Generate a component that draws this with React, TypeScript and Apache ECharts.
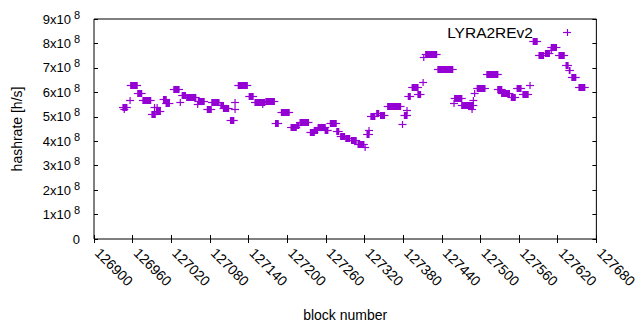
import React, { useEffect, useRef } from "react";
import * as echarts from "echarts";

// Each entry: a run of consecutive blocks that share one hashrate value (h/s)
const runStart = [126945,126947,126956,126957,126968,126976,126990,126994,126997,126998,127008,127012,127024,127034,127037,127044,127061,127062,127076,127083,127097,127101,127112,127119,127119,127124,127141,127150,127162,127167,127182,127191,127206,127215,127220,127236,127242,127248,127259,127267,127277,127283,127291,127300,127310,127321,127324,127327,127330,127339,127345,127356,127379,127382,127386,127388,127394,127403,127411,127412,127415,127434,127459,127460,127471,127487,127489,127491,127495,127510,127527,127533,127548,127557,127566,127577,127582,127591,127601,127610,127610,127622,127633,127638,127642,127653];
const runEnd = [126951,126947,126956,126967,126974,126988,126995,126994,127003,126998,127012,127017,127032,127034,127042,127058,127061,127071,127082,127094,127101,127109,127117,127119,127119,127138,127147,127165,127162,127180,127186,127203,127214,127218,127233,127242,127247,127259,127263,127276,127280,127289,127297,127307,127319,127321,127327,127327,127336,127342,127351,127376,127379,127386,127386,127391,127403,127407,127411,127412,127432,127457,127459,127471,127489,127487,127489,127491,127507,127527,127533,127545,127554,127563,127574,127577,127588,127598,127607,127618,127610,127630,127636,127639,127648,127662];
const hashrateM = [540,530,569,632,597,568,512,540,525,540,572,558,612,559,591,580,552,565,533,560,550,536,487,559,532,628,585,562,552,565,476,518,460,468,478,437,447,457,447,474,442,421,412,404,390,378,430,446,503,515,507,543,470,508,528,585,622,594,644,746,755,694,556,575,550,531,568,597,618,673,612,597,580,617,594,630,812,751,759,784,774,752,710,693,661,620];

const xTickMin = 126900;
const xTickMax = 127680;
const xTickStep = 60;
const yTickMax = 9e8;
const yTickStep = 1e8;
const seriesName = "LYRA2REv2";

const PURPLE = "#9400d3";
const FONT = "Liberation Sans, Arial, sans-serif";

export default function App() {
  const ref = useRef<HTMLDivElement>(null);
  useEffect(() => {
    if (!ref.current) return;
    const chart = echarts.init(ref.current, undefined, { renderer: "svg" });
    const data = runStart.map((s, i) => [s, runEnd[i], hashrateM[i] * 1e6]);
    const yFmt = (v: number) => (v === 0 ? "0" : `{a|${Math.round(v / 1e8)}x10}{b|8}`);
    const tickStyle = { inside: true, length: 4, lineStyle: { color: "#000", width: 1 } };
    chart.setOption({
      animation: false,
      textStyle: { fontFamily: FONT },
      grid: { left: 94, right: 31, top: 19, bottom: 91, show: true, borderColor: "#000", borderWidth: 1, backgroundColor: "transparent" },
      xAxis: [
        {
          type: "value", min: xTickMin, max: xTickMax, interval: xTickStep,
          name: "block number", nameLocation: "middle", nameGap: 69,
          nameTextStyle: { color: "#000", fontSize: 14, fontFamily: FONT },
          axisLine: { show: false }, splitLine: { show: false },
          axisTick: tickStyle,
          axisLabel: { rotate: -45, color: "#000", fontSize: 14, margin: 8, fontFamily: FONT, showMaxLabel: true, padding: [0, 0, 0, 5], formatter: (v: number) => String(v) },
        },
        {
          type: "value", position: "top", min: xTickMin, max: xTickMax, interval: xTickStep,
          axisLine: { show: false }, splitLine: { show: false },
          axisTick: tickStyle, axisLabel: { show: false },
        },
      ],
      yAxis: [
        {
          type: "value", min: 0, max: yTickMax, interval: yTickStep,
          name: "hashrate [h/s]", nameLocation: "middle", nameGap: 70, nameRotate: 90,
          nameTextStyle: { color: "#000", fontSize: 14, fontFamily: FONT },
          axisLine: { show: false }, splitLine: { show: false },
          axisTick: tickStyle,
          axisLabel: {
            color: "#000", fontSize: 13, margin: 14, fontFamily: FONT, formatter: yFmt,
            rich: {
              a: { fontSize: 13, color: "#000", fontFamily: FONT },
              b: { fontSize: 11, color: "#000", fontFamily: FONT, padding: [0, 0, 9, 3] },
            },
          },
        },
        {
          type: "value", position: "right", min: 0, max: yTickMax, interval: yTickStep,
          axisLine: { show: false }, splitLine: { show: false },
          axisTick: tickStyle, axisLabel: { show: false },
        },
      ],
      series: [
        {
          type: "custom",
          name: seriesName,
          xAxisIndex: 0,
          yAxisIndex: 0,
          encode: { x: [0, 1], y: 2 },
          data,
          renderItem: (params: any, api: any) => {
            const p1 = api.coord([api.value(0), api.value(2)]);
            const p2 = api.coord([api.value(1), api.value(2)]);
            const y = Math.round(p1[1]) + 0.5;
            return {
              type: "group",
              children: [
                { type: "line", shape: { x1: p1[0] - 4, y1: y, x2: p2[0] + 4, y2: y }, style: { stroke: PURPLE, lineWidth: 1.2 } },
                { type: "rect", shape: { x: p1[0] - 0.6, y: y - 3.5, width: p2[0] - p1[0] + 1.2, height: 7 }, style: { fill: PURPLE } },
              ],
            };
          },
        },
      ],
      graphic: [
        { type: "text", x: 533, y: 32, style: { text: seriesName, fill: "#000", fontSize: 15.5, fontFamily: FONT, align: "right", verticalAlign: "middle" } },
        { type: "line", shape: { x1: 563, y1: 32.5, x2: 571, y2: 32.5 }, style: { stroke: PURPLE, lineWidth: 1.2 } },
        { type: "line", shape: { x1: 567.5, y1: 29, x2: 567.5, y2: 36 }, style: { stroke: PURPLE, lineWidth: 1.2 } },
      ],
    });
    return () => chart.dispose();
  }, []);
  return <div ref={ref} style={{ width: 640, height: 330, position: "absolute", left: 0, top: 0 }} />;
}
